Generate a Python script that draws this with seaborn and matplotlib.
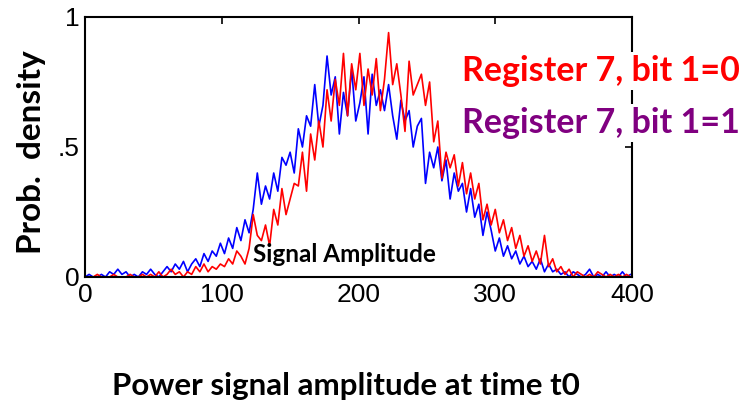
import matplotlib as mpl

mpl.use("Agg")

import matplotlib.pyplot as plt
import pandas as pd
import seaborn as sns

sns.set_theme(style="white")
plt.rcParams["font.family"] = ["Liberation Sans", "DejaVu Sans"]
plt.rcParams.update({
    "text.color": "black",
    "axes.labelcolor": "black",
    "xtick.color": "black",
    "ytick.color": "black",
})

# amplitude bins (one every 3 units) and the two estimated densities
AMPLITUDE = list(range(0, 400, 3))

BIT_1_EQ_1 = [
    0.00, 0.01, 0.00, 0.00, 0.01, 0.00, 0.02, 0.01, 0.03, 0.01,
    0.02, 0.00, 0.01, 0.00, 0.02, 0.01, 0.03, 0.01, 0.00, 0.02,
    0.04, 0.02, 0.05, 0.03, 0.06, 0.02, 0.05, 0.07, 0.04, 0.09,
    0.06, 0.10, 0.08, 0.13, 0.09, 0.15, 0.11, 0.19, 0.14, 0.22,
    0.17, 0.26, 0.40, 0.28, 0.35, 0.30, 0.40, 0.33, 0.46, 0.43,
    0.48, 0.40, 0.57, 0.50, 0.62, 0.58, 0.74, 0.58, 0.66, 0.85,
    0.70, 0.77, 0.55, 0.71, 0.62, 0.80, 0.60, 0.67, 0.77, 0.55,
    0.78, 0.66, 0.72, 0.64, 0.74, 0.62, 0.53, 0.68, 0.60, 0.64,
    0.50, 0.58, 0.61, 0.36, 0.48, 0.42, 0.50, 0.37, 0.45, 0.30,
    0.40, 0.33, 0.36, 0.25, 0.34, 0.23, 0.28, 0.16, 0.25, 0.18,
    0.10, 0.15, 0.08, 0.12, 0.07, 0.10, 0.05, 0.08, 0.04, 0.06,
    0.03, 0.07, 0.02, 0.05, 0.02, 0.03, 0.01, 0.02, 0.00, 0.02,
    0.01, 0.00, 0.01, 0.03, 0.00, 0.01, 0.00, 0.02, 0.00, 0.01,
    0.00, 0.02, 0.00, 0.01,
]

BIT_1_EQ_0 = [
    0.00, 0.00, 0.00, 0.01, 0.00, 0.00, 0.00, 0.01, 0.00, 0.00,
    0.00, 0.01, 0.00, 0.00, 0.01, 0.00, 0.01, 0.00, 0.02, 0.00,
    0.01, 0.03, 0.01, 0.02, 0.00, 0.02, 0.01, 0.04, 0.02, 0.05,
    0.02, 0.04, 0.03, 0.05, 0.04, 0.07, 0.05, 0.10, 0.08, 0.05,
    0.11, 0.24, 0.16, 0.14, 0.20, 0.12, 0.26, 0.20, 0.34, 0.24,
    0.30, 0.36, 0.35, 0.48, 0.33, 0.55, 0.45, 0.60, 0.50, 0.72,
    0.60, 0.76, 0.66, 0.86, 0.62, 0.82, 0.72, 0.86, 0.66, 0.80,
    0.70, 0.84, 0.64, 0.76, 0.94, 0.74, 0.82, 0.70, 0.56, 0.83,
    0.70, 0.74, 0.78, 0.66, 0.75, 0.52, 0.60, 0.38, 0.48, 0.42,
    0.47, 0.35, 0.44, 0.32, 0.40, 0.30, 0.36, 0.22, 0.28, 0.20,
    0.26, 0.17, 0.22, 0.14, 0.19, 0.11, 0.16, 0.08, 0.12, 0.06,
    0.10, 0.05, 0.16, 0.04, 0.07, 0.02, 0.04, 0.01, 0.03, 0.00,
    0.02, 0.01, 0.00, 0.01, 0.00, 0.02, 0.01, 0.00, 0.01, 0.00,
    0.01, 0.00, 0.01, 0.00,
]

BOLD_FONT = ["Lato", "DejaVu Sans"]

df = pd.DataFrame({"amp": AMPLITUDE, "bit0": BIT_1_EQ_0, "bit1": BIT_1_EQ_1})

fig = plt.figure(figsize=(7.44, 4.09), dpi=100)
ax = fig.add_axes([85 / 744, 1 - 277 / 409, 547 / 744, 260 / 409])

sns.lineplot(data=df, x="amp", y="bit1", color="#0000ff", linewidth=1.2, ax=ax)
sns.lineplot(data=df, x="amp", y="bit0", color="#ff0000", linewidth=1.2, ax=ax)

ax.set_xlim(0, 400)
ax.set_ylim(0, 1)
ax.set_xticks([0, 100, 200, 300, 400])
ax.set_yticks([0, 0.5, 1], labels=["0", ".5", "1"])
ax.tick_params(direction="in", length=5, width=1.2, color="black",
               labelsize=19, top=True, right=True, pad=4)
for spine in ax.spines.values():
    spine.set_color("black")
    spine.set_linewidth(1.5)

ax.set_xlabel("")
ax.set_ylabel("Prob.  density", family=BOLD_FONT, fontweight="bold", fontsize=24)
ax.yaxis.set_label_coords(-0.072, 0.48)

fig.text(346 / 744, 1 - 386 / 409, "Power signal amplitude at time t0",
         family=BOLD_FONT, fontweight="bold", fontsize=22.5, ha="center", va="center")

ax.text(190, 0.085, "Signal Amplitude", family=BOLD_FONT, fontweight="bold",
        fontsize=17.5, ha="center", va="center", color="black")

box = dict(facecolor="white", edgecolor="none", pad=2)
fig.text(462 / 744, 1 - 71 / 409, "Register 7, bit 1=0", family=BOLD_FONT,
         fontweight="bold", fontsize=24.5, color="#ff0000", va="center", bbox=box)
fig.text(462 / 744, 1 - 123 / 409, "Register 7, bit 1=1", family=BOLD_FONT,
         fontweight="bold", fontsize=24.5, color="#800080", va="center", bbox=box)

fig.savefig("out.png", dpi=100)
